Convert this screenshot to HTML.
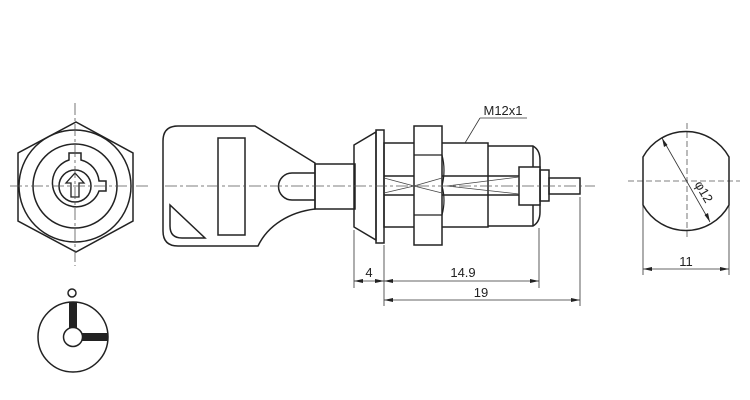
<!DOCTYPE html>
<html><head><meta charset="utf-8"><style>html,body{margin:0;padding:0;background:#fff}svg{display:block}</style></head>
<body>
<svg width="750" height="400" viewBox="0 0 750 400" xmlns="http://www.w3.org/2000/svg" font-family="Liberation Sans, Arial, sans-serif">
<g fill="none" stroke="#222" stroke-width="1.5">
<polygon points="76,122 133,153 133,221 76,252 18,221 18,153"/>
<circle cx="75" cy="186" r="56"/>
<circle cx="75" cy="186" r="42"/>
<path d="M69,160 L69,153 L81,153 L81,160 A24,24 0 0 1 99,181 L106,181 L106,191 L99,191 A24,24 0 1 1 69,160 Z"/>
<circle cx="75" cy="186" r="16"/>
<path d="M75,173 L84,183 L79,183 L79,197 L71,197 L71,183 L66,183 Z" stroke-width="1.3"/>
<path d="M178,126 L255,126 L315,163 L315,209 C290,212 268,225 258,246 L178,246 Q163,246 163,231 L163,141 Q163,126 178,126 Z"/>
<rect x="218" y="138" width="27" height="97"/>
<path d="M170,205 L170,226 Q170,238 182,238 L205,238 Z"/>
<path d="M315,173 L292,173 A13.5,13.5 0 0 0 292,200 L315,200"/>
<rect x="315" y="164" width="40" height="45"/>
<path d="M354,145 L376,132 L376,240 L354,227 Z"/>
<rect x="376" y="130" width="8" height="113"/>
<rect x="384" y="143" width="104" height="84"/>
<path d="M488,146 L533,146 Q540,150 540,160 L540,212 Q540,222 533,226 L488,226"/>
<line x1="533" y1="146" x2="533" y2="167"/><line x1="533" y1="205" x2="533" y2="226"/>
<line x1="384" y1="176" x2="519" y2="176"/><line x1="384" y1="195" x2="519" y2="195"/>
<rect x="414" y="126" width="28" height="119" fill="#fff"/>
<path d="M414,155 L442,155 M414,215 L442,215 M442,155 Q446,170 442,186 Q446,200 442,215" stroke-width="1.2"/>
<rect x="519" y="167" width="21" height="38" fill="#fff"/>
<rect x="540" y="170" width="9" height="31"/>
<rect x="549" y="178" width="31" height="16"/>
</g>
<g fill="none" stroke="#444" stroke-width="0.8">
<path d="M384,178 L414,186 L384,193 M442,178 L414,186 M442,193 L414,186"/>
<path d="M519,177 L447,186 L519,194"/>
</g>
<g stroke="#555" stroke-width="0.8" stroke-dasharray="12,3,3,3" fill="none">
<line x1="75" y1="103" x2="75" y2="266"/>
<line x1="10" y1="186" x2="148" y2="186"/>
<line x1="165" y1="186" x2="595" y2="186"/>
<line x1="687" y1="123" x2="687" y2="240" stroke-dasharray="6,3"/>
<line x1="628" y1="181" x2="740" y2="181" stroke-dasharray="6,3"/>
</g>
<g stroke="#333" stroke-width="0.8" fill="none">
<line x1="354" y1="230" x2="354" y2="288"/>
<line x1="384" y1="245" x2="384" y2="306"/>
<line x1="539" y1="228" x2="539" y2="288"/>
<line x1="580" y1="197" x2="580" y2="306"/>
<line x1="354" y1="281" x2="539" y2="281"/>
<line x1="384" y1="300" x2="580" y2="300"/>
<line x1="465" y1="143" x2="480" y2="118"/><line x1="480" y1="118" x2="527" y2="118"/>
<line x1="643" y1="205" x2="643" y2="275"/><line x1="729" y1="205" x2="729" y2="275"/>
<line x1="643" y1="269" x2="729" y2="269"/>
<line x1="662" y1="138" x2="710" y2="222"/>
</g>
<g fill="#222">
<path d="M354,281 l9,-2 v4z M384,281 l-9,-2 v4z M384,281 l9,-2 v4z M539,281 l-9,-2 v4z"/>
<path d="M384,300 l9,-2 v4z M580,300 l-9,-2 v4z"/>
<path d="M643,269 l9,-2 v4z M729,269 l-9,-2 v4z"/>
<path d="M662,138 l2,9 l3.5,-2z M710,222 l-2,-9 l-3.5,2z"/>
</g>
<g font-size="13" fill="#222" text-anchor="middle">
<text x="369" y="277">4</text>
<text x="463" y="277">14.9</text>
<text x="481" y="297">19</text>
<text x="503" y="115">M12x1</text>
<text x="686" y="266">11</text>
<text x="0" y="0" transform="translate(700,194) rotate(60)">φ12</text>
</g>
<path d="M643,157 A49,49 0 0 1 729,157 L729,205 A49,49 0 0 1 643,205 Z" fill="none" stroke="#222" stroke-width="1.5"/>
<g stroke="#222" stroke-width="1.5" fill="none">
<circle cx="72" cy="293" r="4"/>
<circle cx="73" cy="337" r="35"/>
</g>
<rect x="69" y="302" width="8" height="27" fill="#222"/>
<rect x="81" y="333" width="27" height="8" fill="#222"/>
<circle cx="73" cy="337" r="9.5" fill="#fff" stroke="#222" stroke-width="1.5"/>
</svg>
</body></html>
